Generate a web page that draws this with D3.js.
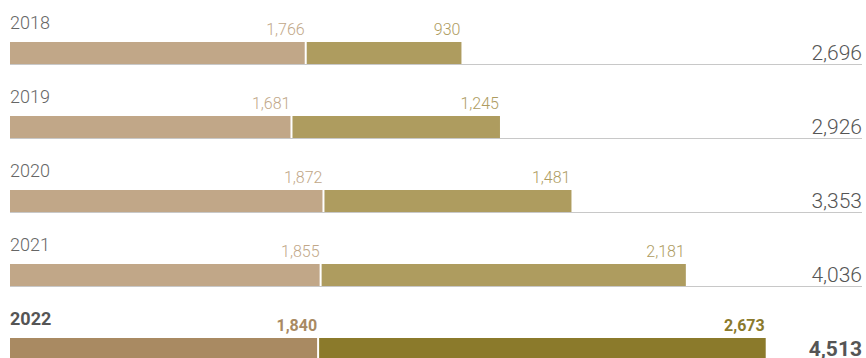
<!DOCTYPE html>
<html>
<head>
<meta charset="utf-8">
<script src="https://cdn.jsdelivr.net/npm/d3@7/dist/d3.min.js"></script>
<style>
  html, body { margin: 0; padding: 0; background: #fff; }
  svg { display: block; font-family: Roboto, "Noto Sans", sans-serif; }
</style>
</head>
<body>
<svg id="chart" width="866" height="358"></svg>
<script>
const years = ["2018", "2019", "2020", "2021", "2022"];
const partA = [1766, 1681, 1872, 1855, 1840];
const partB = [930, 1245, 1481, 2181, 2673];
const totals = [2696, 2926, 3353, 4036, 4513];
const highlightYear = "2022";

const svg = d3.select("#chart");
const fmt = d3.format(",");

const x = d3.scaleLinear().domain([0, 5100]).range([10, 864]);
const rowY = d3.scalePoint().domain(years).range([42, 338]);
const barH = 22;

const colors = {
  a: "#c1a788", b: "#ae9c5f",
  aHi: "#a98a62", bHi: "#8b7a2b"
};

years.forEach((yr, i) => {
  const hi = yr === highlightYear;
  const y0 = rowY(yr);
  const g = svg.append("g");

  // baseline rule
  g.append("line")
    .attr("x1", 10).attr("x2", 862)
    .attr("y1", y0 + barH + 0.5).attr("y2", y0 + barH + 0.5)
    .attr("stroke", "#c8c8c8").attr("stroke-width", 1);

  // year label
  g.append("text")
    .attr("x", 10).attr("y", y0 - 13)
    .attr("font-size", 18)
    .attr("font-weight", hi ? 700 : 300)
    .attr("fill", hi ? "#555" : "#666")
    .text(yr);

  // segments
  const xa = x(partA[i]);
  const xb = x(partA[i] + partB[i]);
  g.append("rect")
    .attr("x", x(0)).attr("y", y0)
    .attr("width", xa - x(0) - 1).attr("height", barH)
    .attr("fill", hi ? colors.aHi : colors.a);
  g.append("rect")
    .attr("x", xa + 1).attr("y", y0)
    .attr("width", xb - xa - 1).attr("height", barH)
    .attr("fill", hi ? colors.bHi : colors.b);

  // segment value labels
  g.append("text")
    .attr("x", xa - 1).attr("y", y0 - 7)
    .attr("text-anchor", "end")
    .attr("font-size", 16)
    .attr("font-weight", hi ? 700 : 300)
    .attr("fill", hi ? colors.aHi : colors.a)
    .text(fmt(partA[i]));
  g.append("text")
    .attr("x", xb - 1).attr("y", y0 - 7)
    .attr("text-anchor", "end")
    .attr("font-size", 16)
    .attr("font-weight", hi ? 700 : 300)
    .attr("fill", hi ? colors.bHi : colors.b)
    .text(fmt(partB[i]));

  // total label
  g.append("text")
    .attr("x", 862).attr("y", y0 + barH - 4)
    .attr("text-anchor", "end")
    .attr("font-size", 21)
    .attr("font-weight", hi ? 700 : 300)
    .attr("fill", "#555")
    .text(fmt(totals[i]));
});
</script>
</body>
</html>
